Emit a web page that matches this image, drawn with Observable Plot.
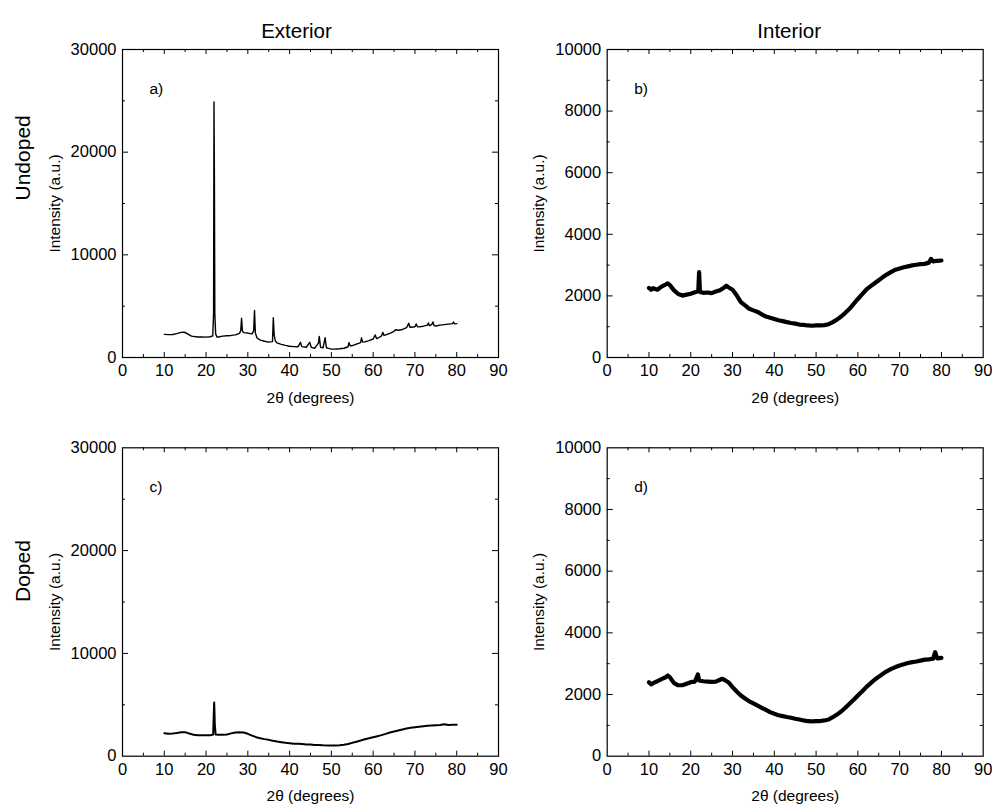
<!DOCTYPE html>
<html>
<head>
<meta charset="utf-8">
<script src="https://cdn.jsdelivr.net/npm/d3@7"></script>
<script src="https://cdn.jsdelivr.net/npm/@observablehq/plot@0.6"></script>
<style>
  html, body { margin: 0; padding: 0; background: #fff; }
  #wrap { position: relative; width: 992px; height: 806px; overflow: hidden; }
  #wrap svg { position: absolute; }
</style>
</head>
<body>
<div id="wrap"></div>
<script>
// ---------- data ----------
const columnTitles = ["Exterior", "Interior"];
const rowTitles = ["Undoped", "Doped"];
const panelLabels = ["a)", "b)", "c)", "d)"];
const xLabel = "2θ (degrees)";
const yLabel = "Intensity (a.u.)";

const xTicks = [0, 10, 20, 30, 40, 50, 60, 70, 80, 90];
const xMinorTicks = [5, 15, 25, 35, 45, 55, 65, 75, 85];
const yTicksExterior = [0, 10000, 20000, 30000];
const yMinorExterior = [5000, 15000, 25000];
const yTicksInterior = [0, 2000, 4000, 6000, 8000, 10000];
const yMinorInterior = [1000, 3000, 5000, 7000, 9000];

// a) Undoped, exterior
const aTheta = [10,11,12,13,14,14.8,15.5,16.5,18,19,20,21,21.6,21.8,21.9,22.0,22.1,22.3,22.6,23,24,25,26,27,28,28.3,28.5,28.7,29,30,31,31.4,31.6,31.8,32.2,33,34,35,35.9,36.1,36.3,36.6,37,38,39,40,41,42,42.6,42.9,44,44.8,45.2,46,46.9,47.1,47.4,48,48.5,48.8,49.5,50,51,52,53,54,54.2,54.5,55,56,57,57.2,57.5,58,59,60,60.5,60.8,61,62,62.3,62.6,63,64,65,65.3,66,67,68,68.5,68.8,69,70,70.3,70.6,71,72,73,73.2,73.5,74,74.3,74.6,75,76,77,78,79,79.2,79.5,80];
const aIntensity = [2250,2230,2240,2330,2450,2460,2330,2080,2000,1990,1980,2020,2100,4300,24900,17500,4200,2300,2000,2000,2080,2120,2150,2200,2350,2600,3830,2600,2420,2380,2300,2600,4580,2400,1900,1700,1580,1500,1550,3870,2200,1600,1420,1280,1180,1100,1060,1040,1480,1060,1000,1480,980,900,1400,2050,1000,950,1920,950,870,820,830,850,900,1050,1450,1150,1150,1300,1450,1900,1500,1520,1650,1800,2200,1850,1850,2100,2450,2150,2200,2350,2550,2700,2650,2730,2900,3340,2950,2950,3000,3270,3000,2980,3050,3150,3370,3100,3200,3460,3100,3070,3150,3200,3250,3300,3460,3280,3300];

// b) Undoped, interior
const bTheta = [10,10.5,11,12,13,14,14.5,15,16,17,18,19,20,21,21.8,22,22.2,23,24,25,26,27,28,28.5,29,30,31,32,33,34,35,36,37,38,39,40,41,42,43,44,45,46,47,48,49,50,51,52,53,54,55,56,57,58,59,60,61,62,63,64,65,66,67,68,69,70,71,72,73,74,75,76,77,77.5,78,79,80];
const bIntensity = [2260,2200,2250,2200,2300,2370,2410,2350,2180,2060,2010,2040,2070,2120,2150,2770,2130,2100,2110,2090,2140,2180,2270,2330,2280,2200,2020,1800,1690,1580,1530,1480,1400,1330,1290,1250,1210,1180,1150,1120,1100,1070,1060,1040,1030,1040,1040,1050,1080,1150,1230,1330,1450,1580,1740,1900,2050,2200,2310,2410,2510,2610,2700,2780,2850,2890,2930,2960,2990,3010,3030,3040,3080,3200,3120,3140,3150];

// c) Doped, exterior
const cTheta = [10,11,12,13,14,15,16,17,18,19,20,21,21.7,21.85,21.95,22.1,22.3,23,24,25,26,27,28,29,30,31,32,33,34,35,36,37,38,39,40,41,42,43,44,45,46,47,48,49,50,51,52,53,54,55,56,57,58,59,60,61,62,63,64,65,66,67,68,69,70,71,72,73,74,75,76,77,78,79,80];
const cIntensity = [2240,2180,2200,2260,2330,2340,2200,2080,2040,2030,2040,2030,2100,4150,5220,3000,2100,2080,2080,2120,2220,2300,2340,2300,2180,2000,1850,1750,1660,1590,1500,1420,1360,1300,1270,1220,1200,1180,1150,1140,1100,1080,1060,1050,1040,1050,1070,1110,1180,1300,1400,1520,1650,1750,1850,1950,2050,2170,2300,2400,2500,2600,2700,2760,2820,2870,2920,2960,2990,3010,3030,3110,3040,3050,3060];

// d) Doped, interior
const dTheta = [10,10.5,11,12,13,14,14.5,15,16,17,18,19,20,21,21.7,22,23,24,25,26,27,27.5,28,29,30,31,32,33,34,35,36,37,38,39,40,41,42,43,44,45,46,47,48,49,50,51,52,53,54,55,56,57,58,59,60,61,62,63,64,65,66,67,68,69,70,71,72,73,74,75,76,77,78,78.5,79,80];
const dIntensity = [2400,2330,2370,2430,2500,2560,2617,2560,2370,2300,2300,2350,2400,2420,2650,2455,2430,2420,2410,2420,2480,2510,2480,2400,2240,2100,1970,1870,1780,1710,1640,1570,1500,1430,1375,1330,1300,1270,1245,1215,1190,1160,1135,1130,1135,1140,1160,1190,1265,1350,1450,1570,1700,1830,1970,2100,2240,2360,2480,2580,2670,2760,2830,2890,2940,2980,3020,3050,3070,3100,3130,3140,3160,3370,3170,3190];

// ---------- drawing ----------
const FONT = "'Liberation Sans', Arial, Helvetica, sans-serif";
const fmt = d3.format("d");

function panel(o) {
  const W = o.width - o.marginLeft - o.marginRight;
  const H = o.height - o.marginTop - o.marginBottom;
  const rows = o.theta.map((t, i) => ({t, v: o.intensity[i]}));
  const marks = [
    Plot.frame({stroke: "#000", strokeWidth: 1.2}),
    Plot.axisX(xTicks, {tickSize: 0, tickPadding: 7, tickFormat: fmt, fontSize: 16.5, label: null}),
    Plot.axisX({ticks: [], tickSize: 0, label: xLabel, labelAnchor: "center", labelArrow: "none", labelOffset: 45, fontSize: 15.5}),
    Plot.axisY(o.yTicks, {tickSize: 0, tickPadding: 6, tickFormat: fmt, fontSize: 16.5, label: null}),
    Plot.axisY({ticks: [], tickSize: 0, label: yLabel, labelAnchor: "center", labelArrow: "none", labelOffset: o.yLabelOffset, fontSize: 15.5}),
    // inward tick marks on all four sides
    Plot.ruleX(xTicks.slice(1, -1), {x: d => d, insetTop: H - 5, stroke: "#000"}),
    Plot.ruleX(xTicks.slice(1, -1), {x: d => d, insetBottom: H - 5, stroke: "#000"}),
    Plot.ruleX(xMinorTicks, {x: d => d, insetTop: H - 3, stroke: "#000"}),
    Plot.ruleX(xMinorTicks, {x: d => d, insetBottom: H - 3, stroke: "#000"}),
    Plot.ruleY(o.yTicks.slice(1, -1), {y: d => d, insetRight: W - 6, stroke: "#000"}),
    Plot.ruleY(o.yTicks.slice(1, -1), {y: d => d, insetLeft: W - 6, stroke: "#000"}),
    Plot.ruleY(o.yMinor, {y: d => d, insetRight: W - 3, stroke: "#000"}),
    Plot.ruleY(o.yMinor, {y: d => d, insetLeft: W - 3, stroke: "#000"}),
    Plot.line(rows, {x: "t", y: "v", stroke: "#000", strokeWidth: o.strokeWidth, strokeLinejoin: "round"}),
    Plot.text([o.panelLabel], {frameAnchor: "top-left", dx: 27, dy: 33, textAnchor: "start", fontSize: 15.5, fill: "#000"})
  ];
  if (o.colTitle) marks.push(Plot.text([o.colTitle], {frameAnchor: "top", dx: o.colDx, dy: -26, fontSize: 20.5, fill: "#000"}));
  if (o.rowTitle) marks.push(Plot.text([o.rowTitle], {frameAnchor: "left", rotate: -90, dx: -99, dy: o.rowDy, fontSize: 21, fill: "#000"}));
  const svg = Plot.plot({
    width: o.width, height: o.height,
    marginLeft: o.marginLeft, marginRight: o.marginRight, marginTop: o.marginTop, marginBottom: o.marginBottom,
    style: {fontFamily: FONT, fontSize: "15px", color: "#000", background: "transparent", overflow: "visible"},
    x: {domain: [0, 90], label: null},
    y: {domain: [0, o.yMax], label: null},
    marks
  });
  svg.style.left = o.left + "px";
  svg.style.top = o.top + "px";
  return svg;
}

const wrap = document.getElementById("wrap");
wrap.append(panel({left: 0, top: 0, width: 515, height: 403, marginLeft: 122, marginRight: 17, marginTop: 49, marginBottom: 46,
  theta: aTheta, intensity: aIntensity, yMax: 30000, yTicks: yTicksExterior, yMinor: yMinorExterior, strokeWidth: 1.4,
  panelLabel: panelLabels[0], colTitle: columnTitles[0], colDx: -14, rowTitle: rowTitles[0], rowDy: -3, yLabelOffset: 74}));
wrap.append(panel({left: 495, top: 0, width: 497, height: 403, marginLeft: 111.7, marginRight: 9.3, marginTop: 49, marginBottom: 46,
  theta: bTheta, intensity: bIntensity, yMax: 10000, yTicks: yTicksInterior, yMinor: yMinorInterior, strokeWidth: 4.2,
  panelLabel: panelLabels[1], colTitle: columnTitles[1], colDx: -6, yLabelOffset: 74}));
wrap.append(panel({left: 0, top: 403, width: 515, height: 403, marginLeft: 122, marginRight: 17, marginTop: 44.3, marginBottom: 50.3,
  theta: cTheta, intensity: cIntensity, yMax: 30000, yTicks: yTicksExterior, yMinor: yMinorExterior, strokeWidth: 2,
  panelLabel: panelLabels[2], rowTitle: rowTitles[1], rowDy: 0, yLabelOffset: 74}));
wrap.append(panel({left: 495, top: 403, width: 497, height: 403, marginLeft: 111.7, marginRight: 9.3, marginTop: 44.3, marginBottom: 50.3,
  theta: dTheta, intensity: dIntensity, yMax: 10000, yTicks: yTicksInterior, yMinor: yMinorInterior, strokeWidth: 4.2,
  panelLabel: panelLabels[3], yLabelOffset: 74}));
</script>
</body>
</html>
